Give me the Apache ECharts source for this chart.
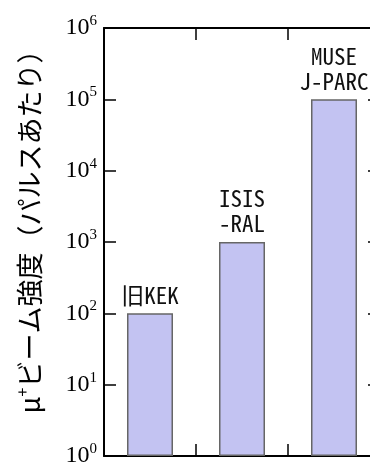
<!DOCTYPE html>
<html>
<head>
<meta charset="utf-8">
<script src="https://cdn.jsdelivr.net/npm/echarts@6/dist/echarts.min.js"></script>
<style>
  html, body { margin: 0; padding: 0; background: #fff; }
  #chart { width: 370px; height: 464px; }
</style>
</head>
<body>
<div id="chart"></div>
<script>
// 施設名と強度（パルスあたり）
var facilities = ["旧KEK", "ISIS\n-RAL", "MUSE\nJ-PARC"];
var intensity = [100, 1000, 100000];

var chart = echarts.init(document.getElementById("chart"));

var axisTick = { show: true, inside: true, length: 12, lineStyle: { color: "#000", width: 1.5 } };
var axisLine = { show: true, lineStyle: { color: "#000", width: 2 } };

var option = {
  animation: false,
  grid: {
    left: 104,
    top: 28,
    width: 276,
    height: 428,
    outerBoundsMode: "none",
    containLabel: false,
  },
  xAxis: [
    {
      type: "category",
      data: facilities,
      position: "bottom",
      axisLine: axisLine,
      axisTick: axisTick,
      axisLabel: { show: false },
    },
    {
      type: "category",
      data: facilities,
      position: "top",
      axisLine: axisLine,
      axisTick: axisTick,
      axisLabel: { show: false },
    },
  ],
  yAxis: [
    {
      type: "log",
      logBase: 10,
      min: 1,
      max: 1000000,
      position: "left",
      name: "{mu|μ}{sup|+}{t|ビーム強度（パルスあたり）}",
      nameLocation: "middle",
      nameGap: 58,
      nameRotate: 90,
      nameTextStyle: {
        padding: [0, 0, 0, 34],
        rich: {
          mu: { fontSize: 27, fontFamily: "Noto Sans CJK JP", color: "#000" },
          sup: { fontSize: 16, fontFamily: "Noto Sans CJK JP", color: "#000", padding: [0, 0, 16, 0] },
          t: { fontSize: 27, fontFamily: "Noto Sans CJK JP", color: "#000" },
        },
      },
      axisLine: axisLine,
      axisTick: axisTick,
      splitLine: { show: false },
      minorTick: { show: false },
      axisLabel: {
        margin: 7,
        formatter: function (v) {
          var e = Math.round(Math.log10(v));
          return "{b|10}{e|" + e + "}";
        },
        rich: {
          b: { fontSize: 24, fontFamily: "Liberation Serif", color: "#000" },
          e: { fontSize: 15, fontFamily: "Liberation Serif", color: "#000", padding: [0, 0, 14, 0] },
        },
      },
    },
    {
      type: "log",
      logBase: 10,
      min: 1,
      max: 1000000,
      position: "right",
      axisLine: axisLine,
      axisTick: axisTick,
      splitLine: { show: false },
      axisLabel: { show: false },
    },
  ],
  series: [
    {
      type: "bar",
      data: intensity,
      barWidth: "50%",
      itemStyle: {
        color: "#c3c3f2",
        borderColor: "#666",
        borderWidth: 1.5,
      },
      label: {
        show: true,
        position: "top",
        distance: 6,
        formatter: "{b}",
        color: "#111",
        fontSize: 23,
        lineHeight: 25,
        fontFamily: "Noto Sans Mono CJK JP, Noto Sans CJK JP",
        align: "center",
      },
    },
  ],
};

chart.setOption(option);
</script>
</body>
</html>
